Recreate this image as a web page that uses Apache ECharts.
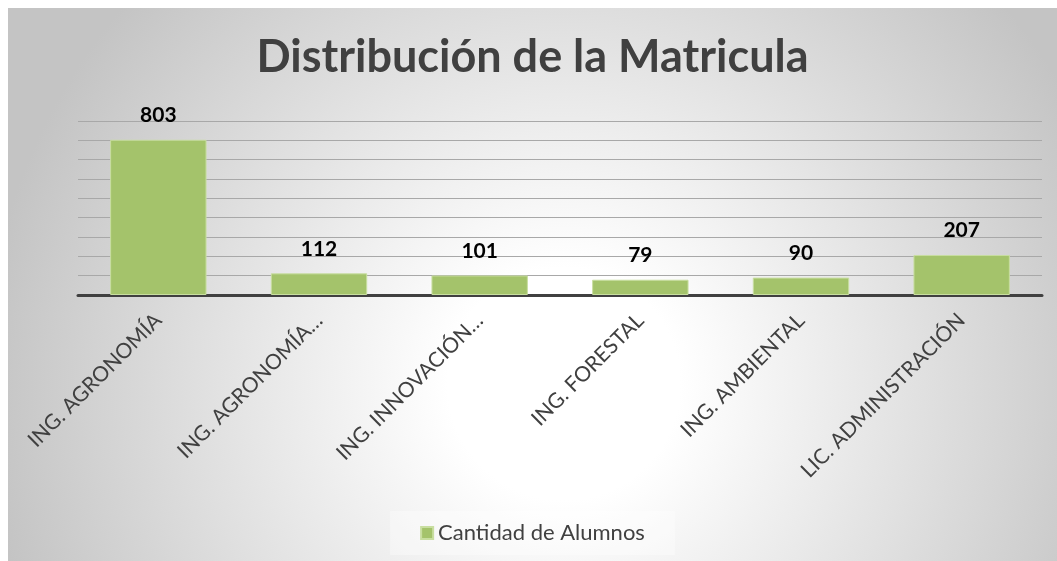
<!DOCTYPE html>
<html>
<head>
<meta charset="utf-8">
<script src="https://cdn.jsdelivr.net/npm/echarts@6/dist/echarts.min.js"></script>
<style>
html,body{margin:0;padding:0;background:#fff;width:1057px;height:561px;overflow:hidden;}
#chart{position:absolute;left:8px;top:8px;width:1049px;height:553px;}
</style>
</head>
<body>
<div id="chart"></div>
<script>
const categories = ['ING. AGRONOMÍA', 'ING. AGRONOMÍA…', 'ING. INNOVACIÓN…', 'ING. FORESTAL', 'ING. AMBIENTAL', 'LIC. ADMINISTRACIÓN'];
const alumnos = [803, 112, 101, 79, 90, 207];
const seriesName = 'Cantidad de Alumnos';
const titleText = 'Distribución de la Matricula';

const chart = echarts.init(document.getElementById('chart'));
chart.setOption({
  backgroundColor: {
    type: 'radial', x: 0.53, y: 0.68, r: 1.05,
    colorStops: [
      {offset: 0, color: '#ffffff'},
      {offset: 0.2, color: '#ffffff'},
      {offset: 1, color: '#c4c4c4'}
    ]
  },
  textStyle: {fontFamily: 'Lato'},
  title: {
    text: titleText, left: 'center', top: 22,
    textStyle: {fontFamily: 'Lato', fontWeight: 'bold', fontSize: 45, color: '#404040'}
  },
  legend: {
    bottom: 6, left: 'center',
    padding: [11, 30, 11, 30],
    backgroundColor: 'rgba(255,255,255,0.35)',
    itemWidth: 12, itemHeight: 12, itemGap: 8,
    icon: 'rect',
    textStyle: {fontFamily: 'Lato', fontSize: 22, color: '#404040'},
    data: [seriesName]
  },
  grid: {left: 70, right: 15, top: 113, bottom: 266, containLabel: false},
  xAxis: {
    type: 'category', data: categories,
    axisLine: {lineStyle: {color: '#404040', width: 3}},
    axisTick: {show: false},
    axisLabel: {rotate: 45, interval: 0, margin: 22, fontFamily: 'Lato', fontSize: 21, color: '#404040'}
  },
  yAxis: {
    type: 'value', min: 0, max: 900, interval: 100,
    axisLabel: {show: false}, axisLine: {show: false}, axisTick: {show: false},
    splitLine: {lineStyle: {color: '#a8a8a8', width: 1.2}}
  },
  series: [{
    name: seriesName, type: 'bar', data: alumnos, barWidth: '60%',
    itemStyle: {color: '#a4c36b', borderColor: '#c8dea0', borderWidth: 1},
    label: {show: true, position: 'top', distance: 14, fontFamily: 'Lato', fontWeight: 'bold', fontSize: 21, color: '#000'}
  }]
});
</script>
</body>
</html>
